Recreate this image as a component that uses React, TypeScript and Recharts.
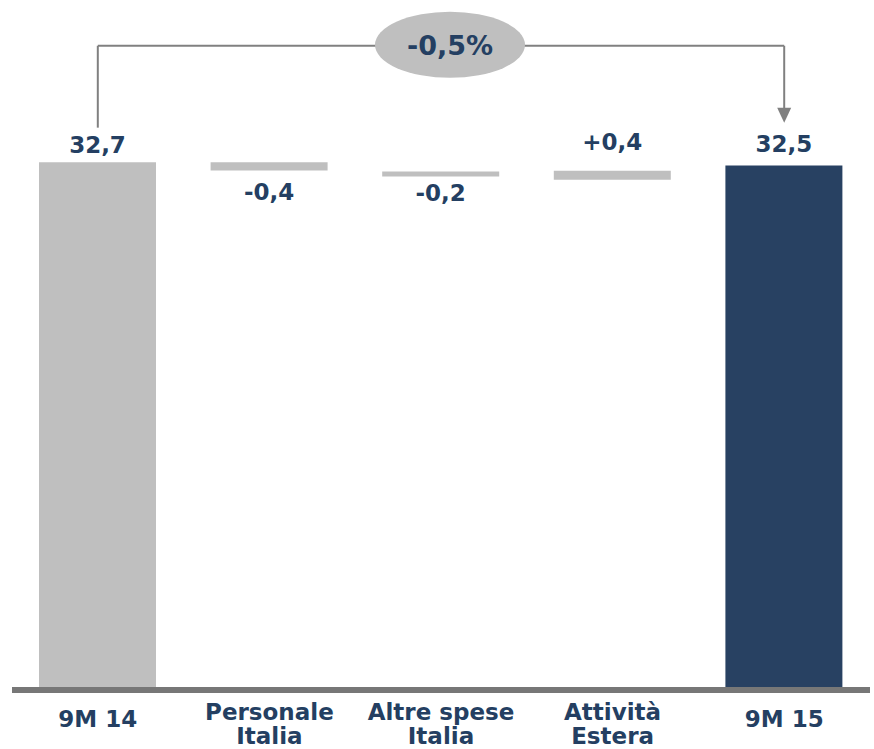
import React from 'react';
import { BarChart, Bar, XAxis, YAxis, Cell, LabelList, ReferenceLine, ReferenceDot } from 'recharts';

const categories = ['9M 14', 'Personale Italia', 'Altre spese Italia', 'Attività Estera', '9M 15'];
const tickLines = [['9M 14'], ['Personale', 'Italia'], ['Altre spese', 'Italia'], ['Attività', 'Estera'], ['9M 15']];
const barLow = [0, 32.18, 31.81, 31.6, 0];
const barHigh = [32.7, 32.7, 32.12, 32.16, 32.5];
const valueLabels = ['32,7', '-0,4', '-0,2', '+0,4', '32,5'];
const changeLabel = '-0,5%';
const bracketTop = 39.95;
const bracketLeftEnd = 34.85;
const arrowTip = 35.15;

const NAVY = '#243F62';
const GREY = '#BFBFBF';
const barColors = [GREY, GREY, GREY, GREY, '#284162'];
const labelAbove = [true, false, false, true, true];
const labelOffsets = [9, 29, 25, 21, 13];
const FONT = '"DejaVu Sans", Verdana, sans-serif';

const data = categories.map((name, i) => ({ name, range: [barLow[i], barHigh[i]], label: valueLabels[i] }));

const CategoryTick = (props: any) => {
  const { x, y, index } = props;
  const lines = tickLines[index] || [];
  const baselines = lines.length === 1 ? [32] : [25, 49];
  return (
    <g>
      {lines.map((l, k) => (
        <text key={k} x={x} y={y + baselines[k]} textAnchor="middle" fill={NAVY} fontSize={23} fontWeight="bold" fontFamily={FONT}>
          {l}
        </text>
      ))}
    </g>
  );
};

const ValueLabel = (props: any) => {
  const { x, y, width, height, index } = props;
  const cx = x + width / 2;
  const ty = labelAbove[index] ? y - labelOffsets[index] : y + height + labelOffsets[index];
  return (
    <text x={cx} y={ty} textAnchor="middle" fill={NAVY} fontSize={23} fontWeight="bold" fontFamily={FONT}>
      {valueLabels[index]}
    </text>
  );
};

const EllipseShape = (props: any) => {
  const { cx, cy } = props;
  const x = cx + 9;
  const y = cy - 1;
  return (
    <g>
      <ellipse cx={x} cy={y} rx={75} ry={33} fill={GREY} />
      <text x={x} y={y + 10} textAnchor="middle" fill={NAVY} fontSize={27} fontWeight="bold" fontFamily={FONT}>
        {changeLabel}
      </text>
    </g>
  );
};

const ArrowShape = (props: any) => {
  const { cx, cy } = props;
  return <path d={`M ${cx - 7} ${cy - 15} L ${cx + 7} ${cy - 15} L ${cx} ${cy} Z`} fill="#808080" />;
};

export default function App() {
  return (
    <div style={{ position: 'absolute', left: 0, top: 0 }}>
      <BarChart width={874} height={749} data={data} margin={{ top: 45, right: 4, bottom: 32, left: 12 }} barSize={117}>
        <YAxis hide type="number" domain={[0, 40]} allowDataOverflow />
        <XAxis
          dataKey="name"
          height={30}
          interval={0}
          tickLine={false}
          axisLine={{ stroke: '#777777', strokeWidth: 6, transform: 'translate(0,3)' }}
          tick={<CategoryTick />}
        />
        <Bar dataKey="range" isAnimationActive={false}>
          {data.map((d, i) => (
            <Cell key={i} fill={barColors[i]} />
          ))}
          <LabelList dataKey="label" content={<ValueLabel />} />
        </Bar>
        <ReferenceLine
          segment={[{ x: categories[0], y: bracketLeftEnd }, { x: categories[0], y: bracketTop }]}
          stroke="#808080"
          strokeWidth={2}
          ifOverflow="visible"
        />
        <ReferenceLine
          segment={[{ x: categories[0], y: bracketTop }, { x: categories[4], y: bracketTop }]}
          stroke="#808080"
          strokeWidth={2}
          ifOverflow="visible"
        />
        <ReferenceLine
          segment={[{ x: categories[4], y: bracketTop }, { x: categories[4], y: arrowTip + 0.8 }]}
          stroke="#808080"
          strokeWidth={2}
          ifOverflow="visible"
        />
        <ReferenceDot x={categories[4]} y={arrowTip} ifOverflow="visible" shape={<ArrowShape />} />
        <ReferenceDot x={categories[2]} y={bracketTop} ifOverflow="visible" shape={<EllipseShape />} />
      </BarChart>
    </div>
  );
}
